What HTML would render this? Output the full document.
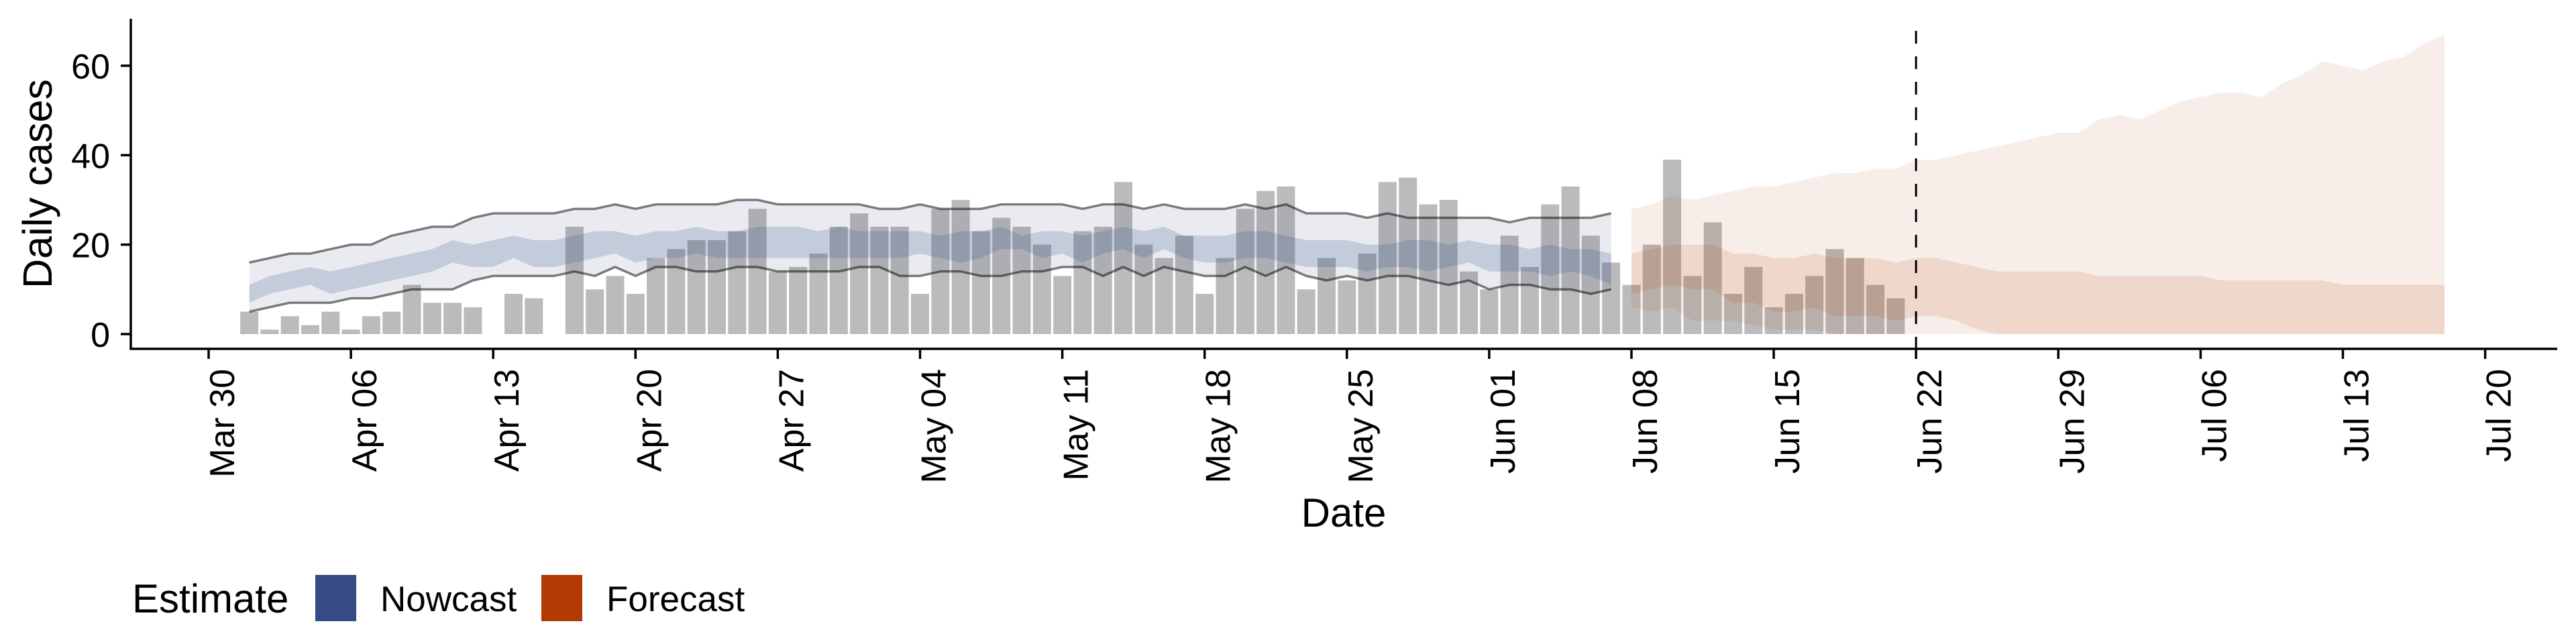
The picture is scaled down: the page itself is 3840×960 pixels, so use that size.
<!DOCTYPE html>
<html><head><meta charset="utf-8"><style>
html,body{margin:0;padding:0;background:#fff;}
svg{display:block;font-family:"Liberation Sans",Arial,sans-serif;}
</style></head><body>
<svg id="chart" width="3840" height="960" viewBox="0 0 3840 960" xmlns="http://www.w3.org/2000/svg">
<g id="bars"></g>
<g id="ribbons"></g>
<g id="lines"></g>
<g id="axes"></g>
<text transform="translate(77,274) rotate(-90)" text-anchor="middle" font-size="61">Daily cases</text>
<text x="2003" y="785" text-anchor="middle" font-size="60">Date</text>
<g>
<text x="197" y="913" font-size="60">Estimate</text>
<rect x="470" y="857" width="61" height="69" fill="#344b84"/>
<text x="567" y="911" font-size="53">Nowcast</text>
<rect x="807" y="857" width="61" height="69" fill="#b33a05"/>
<text x="904" y="911" font-size="53">Forecast</text>
</g>
</svg>
<script>
// ---- data (day index: 0 = Mar 30) ----
const caseStartDay = 2; // Apr 1
const cases = [5,1,4,2,5,1,4,5,11,7,7,6,null,9,8,null,
24,10,13,9,17,19,21,21,23,28,14,15,
18,24,27,24,24,9,28,30,23,26,24,20,13,23,24,34,20,17,22,9,17,28,32,33,10,17,12,18,34,35,29,30,14,10,22,15,29,33,22,16,11,20,39,
13,25,9,15,6,9,13,19,17,11,8];
const nowStartDay = 2; // Apr 1 .. Jun 7
const nowUpper90 = [16,17,18,18,19,20,20,22,23,24,24,26,27,27,27,27,28,28,29,28,29,29,29,29,30,30,29,29,
29,29,
29,28,28,29,28,28,28,29,29,29,29,28,29,29,28,29,28,28,28,29,28,29,27,27,27,26,27,26,26,26,26,
26,25,26,26,26,26,27];
const nowLower90 = [5,6,7,7,7,8,8,9,10,10,10,12,13,13,13,13,14,13,15,13,15,15,14,14,15,15,14,14,
14,14,
15,15,13,13,14,14,13,13,14,14,15,15,13,15,13,15,14,13,13,15,13,15,13,12,13,12,13,13,12,11,12,
10,11,11,10,10,9,10];
const nowUpper50 = [11,13,14,15,14,15,16,17,18,19,21,20,21,22,21,21,22,23,23,22,23,23,24,23,23,24,24,24,
23,24,
23,23,23,23,22,23,23,24,22,23,23,22,23,24,23,24,22,22,22,23,23,22,21,21,21,20,20,21,21,20,21,
20,20,19,20,19,19,18];
const nowLower50 = [7,9,10,11,9,10,11,12,13,14,16,15,15,17,15,15,16,17,18,16,17,17,18,17,17,17,17,17,
17,17,
17,17,17,18,17,16,17,19,19,17,18,16,18,19,17,19,17,16,16,17,17,16,15,15,15,14,15,15,14,15,16,
14,14,14,13,14,13,11];
const fcStartDay = 70; // Jun 8 .. Jul 18
const fcUpper90 = [28,29,31,30,31,32,33,33,34,35,36,36,37,37,39,39,40,41,42,43,44,45,45,
48,49,48,50,52,53,54,54,53,56,58,61,60,59,61,62,65,67];
const fcLower90 = [6,5,6,3,3,3,2,1,1,1,0,0,0,0,0,0,0,0,0,0,0,0,0,0,0,0,0,0,0,0,0,0,0,0,0,0,0,0,0,0,0];
const fcUpper50 = [18,19,20,20,20,18,18,17,17,18,17,17,17,16,17,17,16,15,14,14,14,14,14,
13,13,13,13,13,13,12,12,12,12,12,12,11,11,11,11,11,11];
const fcLower50 = [9,10,11,10,10,7,7,5,5,6,4,4,4,3,4,4,3,1,0,0,0,0,0,0,0,0,0,0,0,0,0,0,0,0,0,0,0,0,0,0,0];
const yTicks = [0,20,40,60];
const xTickLabels = ["Mar 30","Apr 06","Apr 13","Apr 20","Apr 27","May 04","May 11","May 18","May 25","Jun 01","Jun 08","Jun 15","Jun 22","Jun 29","Jul 06","Jul 13","Jul 20"];
const forecastDateDay = 84; // Jun 22

// ---- scales ----
const X0 = 311, DAY = 30.3, Y0 = 498, UNIT = 6.667;
const xs = d => X0 + d * DAY;
const ys = v => Y0 - v * UNIT;
const NS = "http://www.w3.org/2000/svg";
function mk(tag, parent, attrs){const e=document.createElementNS(NS,tag);for(const k in attrs)e.setAttribute(k,attrs[k]);parent.appendChild(e);return e;}

// bars
const gb = document.getElementById('bars');
cases.forEach((v,i)=>{
  if(v===null) return;
  const d = caseStartDay + i;
  const r = mk('rect', gb, {x: xs(d)-13.5, y: ys(v), width: 27, height: ys(0)-ys(v), fill:'#bbbbbb'});
  
  
});

// ribbons
const gr = document.getElementById('ribbons');
function ribbon(start, up, lo, fill, op, name){
  let p = up.map((v,i)=>`${xs(start+i)},${ys(v)}`);
  for(let i=lo.length-1;i>=0;i--) p.push(`${xs(start+i)},${ys(lo[i])}`);
  const e = mk('polygon', gr, {points: p.join(' '), fill: fill, 'fill-opacity': op});
  
  
}
ribbon(nowStartDay, nowUpper90, nowLower90, '#344b84', 0.11, 'nowcast-90-ribbon');
ribbon(nowStartDay, nowUpper50, nowLower50, '#344b84', 0.2, 'nowcast-50-ribbon');
ribbon(fcStartDay, fcUpper90, fcLower90, '#b33a05', 0.085, 'forecast-90-ribbon');
ribbon(fcStartDay, fcUpper50, fcLower50, '#b33a05', 0.13, 'forecast-50-ribbon');

// lines
const gl = document.getElementById('lines');
function line(start, vals, name){
  const e = mk('polyline', gl, {points: vals.map((v,i)=>`${xs(start+i)},${ys(v)}`).join(' '), fill:'none', stroke:'#000', 'stroke-opacity':0.5, 'stroke-width':3.5, 'stroke-linejoin':'round'});
  
  
}
line(nowStartDay, nowUpper90, 'nowcast-upper-line');
line(nowStartDay, nowLower90, 'nowcast-lower-line');

// axes
const ga = document.getElementById('axes');
const yl = mk('line', ga, {x1:195, y1:28, x2:195, y2:521.5, stroke:'#000', 'stroke-width':3.5});


const xl = mk('line', ga, {x1:193.3, y1:520, x2:3812, y2:520, stroke:'#000', 'stroke-width':3.5});


yTicks.forEach(v=>{
  const t = mk('line', ga, {x1:180, y1:ys(v), x2:195, y2:ys(v), stroke:'#000', 'stroke-width':3.5});
  
  
  const l = mk('text', ga, {x:164, y:ys(v)+19, 'text-anchor':'end', 'font-size':52});
  l.textContent = v;
  
  
});
xTickLabels.forEach((s,i)=>{
  const x = xs(i*7);
  const t = mk('line', ga, {x1:x, y1:520, x2:x, y2:535, stroke:'#000', 'stroke-width':3.5});
  
  
  const l = mk('text', ga, {transform:`translate(${x+38},550) rotate(-90)`, 'text-anchor':'end', 'font-size':52});
  l.textContent = s;
  
  
});
const dl = mk('line', ga, {x1:xs(forecastDateDay), y1:46, x2:xs(forecastDateDay), y2:535, stroke:'#000', 'stroke-width':3, 'stroke-dasharray':'19 19'});


</script>
</body></html>
